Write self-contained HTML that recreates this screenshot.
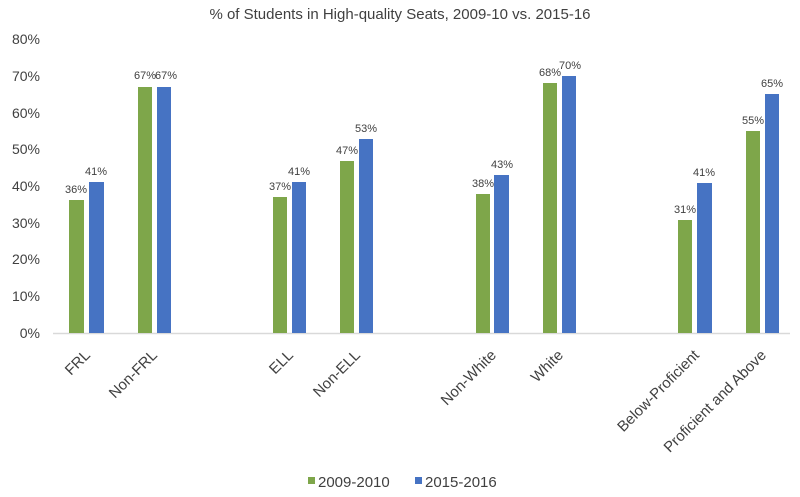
<!DOCTYPE html>
<html><head><style>body{margin:0;background:#fff}svg{display:block}text{font-family:"Liberation Sans",Arial,sans-serif;fill:#404040}</style></head>
<body>
<svg width="800" height="497" xmlns="http://www.w3.org/2000/svg">
<text x="400" y="19" text-anchor="middle" font-size="15" fill="#222">% of Students in High-quality Seats, 2009-10 vs. 2015-16</text>
<g font-size="14" text-anchor="end">
<text x="40" y="44">80%</text><text x="40" y="81">70%</text><text x="40" y="118">60%</text><text x="40" y="154">50%</text><text x="40" y="191">40%</text><text x="40" y="228">30%</text><text x="40" y="264">20%</text><text x="40" y="301">10%</text><text x="40" y="338">0%</text>
</g>
<line x1="53" y1="333.5" x2="790" y2="333.5" stroke="#d9d9d9" stroke-width="1.5"/>
<g font-size="11" text-anchor="middle" fill="#404040">
<rect x="69" y="200" width="15" height="133" fill="#7ea64a"/><rect x="89" y="182" width="15" height="151" fill="#4673c3"/>
<text x="76" y="193">36%</text><text x="96" y="175">41%</text>
<rect x="138" y="87" width="14" height="246" fill="#7ea64a"/><rect x="157" y="87" width="14" height="246" fill="#4673c3"/>
<text x="145" y="79">67%</text><text x="166" y="79">67%</text>
<rect x="273" y="197" width="14" height="136" fill="#7ea64a"/><rect x="292" y="182" width="14" height="151" fill="#4673c3"/>
<text x="280" y="190">37%</text><text x="299" y="175">41%</text>
<rect x="340" y="161" width="14" height="172" fill="#7ea64a"/><rect x="359" y="139" width="14" height="194" fill="#4673c3"/>
<text x="347" y="154">47%</text><text x="366" y="132">53%</text>
<rect x="476" y="194" width="14" height="139" fill="#7ea64a"/><rect x="494" y="175" width="15" height="158" fill="#4673c3"/>
<text x="483" y="187">38%</text><text x="502" y="168">43%</text>
<rect x="543" y="83" width="14" height="250" fill="#7ea64a"/><rect x="562" y="76" width="14" height="257" fill="#4673c3"/>
<text x="550" y="76">68%</text><text x="570" y="69">70%</text>
<rect x="678" y="220" width="14" height="113" fill="#7ea64a"/><rect x="697" y="183" width="15" height="150" fill="#4673c3"/>
<text x="685" y="213">31%</text><text x="704" y="176">41%</text>
<rect x="746" y="131" width="14" height="202" fill="#7ea64a"/><rect x="765" y="94" width="14" height="239" fill="#4673c3"/>
<text x="753" y="124">55%</text><text x="772" y="87">65%</text>
</g>
<g font-size="15" text-anchor="end">
<text transform="translate(91,356) rotate(-45)">FRL</text>
<text transform="translate(158,356) rotate(-45)">Non-FRL</text>
<text transform="translate(294,356) rotate(-45)">ELL</text>
<text transform="translate(361,356) rotate(-45)">Non-ELL</text>
<text transform="translate(497,356) rotate(-45)">Non-White</text>
<text transform="translate(564,356) rotate(-45)">White</text>
<text transform="translate(700,356) rotate(-45)">Below-Proficient</text>
<text transform="translate(767,356) rotate(-45)">Proficient and Above</text>
</g>
<rect x="308" y="477" width="7" height="7" fill="#7ea64a"/><text x="318" y="487" font-size="15">2009-2010</text>
<rect x="415" y="477" width="7" height="7" fill="#4673c3"/><text x="425" y="487" font-size="15">2015-2016</text>
</svg>
</body></html>
